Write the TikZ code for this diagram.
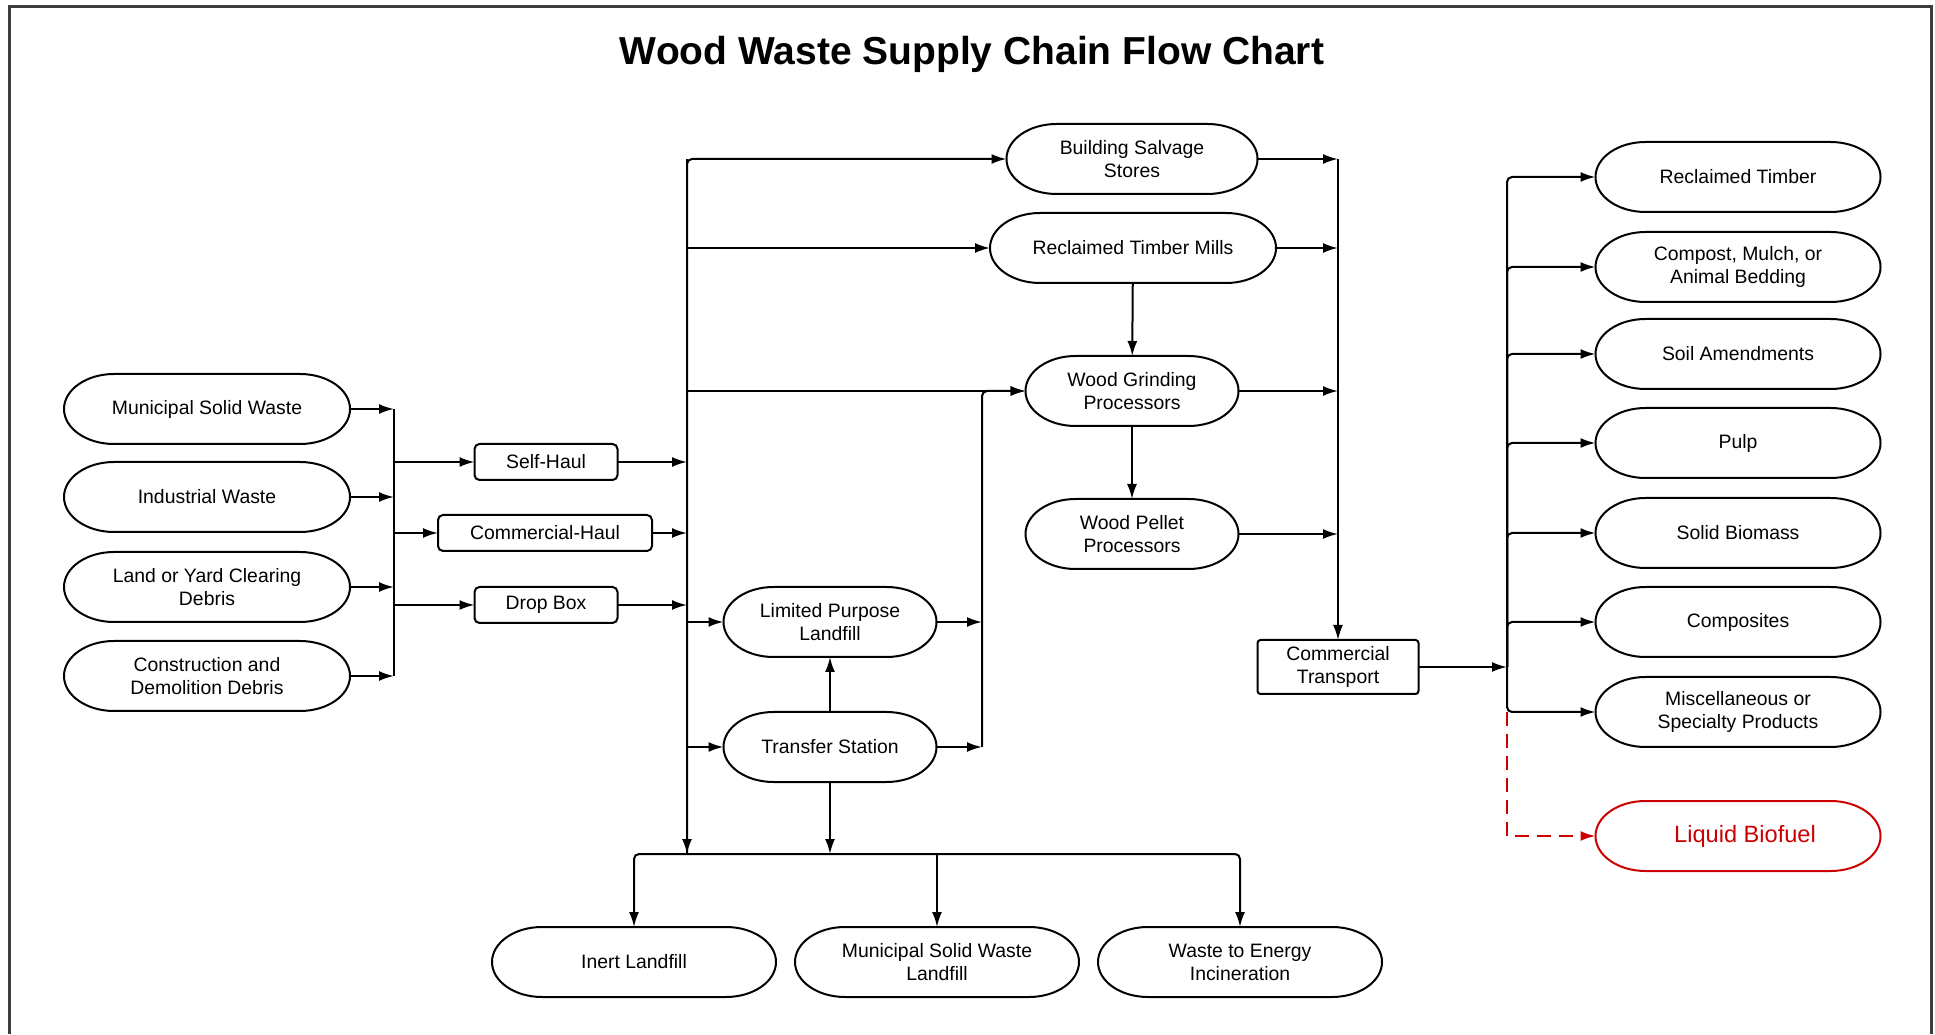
\documentclass[tikz,border=0pt]{standalone}
\usepackage{fontspec}
\setmainfont{Liberation Sans}
\usepackage{tikz}
\usetikzlibrary{arrows.meta,positioning,calc}
\usepackage{xcolor}
\definecolor{biored}{RGB}{204,0,0}
\definecolor{framegray}{RGB}{60,60,60}

\newcommand{\bodyfont}{\fontsize{19.4}{23}\selectfont}
% outline of a pill shaped node
\newcommand{\pill}[2][black]{%
  \draw[line width=2pt,#1] ([xshift=50pt]#2.north west) -- ([xshift=-50pt]#2.north east)
    arc[start angle=90,end angle=-90,x radius=50pt,y radius=35pt]
    -- ([xshift=50pt]#2.south west)
    arc[start angle=270,end angle=90,x radius=50pt,y radius=35pt] -- cycle;}

\begin{document}
\begin{tikzpicture}[x=1pt,y=1pt,
  pill/.style={rectangle, minimum height=70pt, minimum width=286pt, inner sep=2pt, outer sep=0pt, align=center, font=\bodyfont},
  box/.style={draw, rectangle, rounded corners=5pt, line width=2pt, minimum height=36pt, inner sep=3pt, outer sep=0pt, align=center, font=\bodyfont},
  wire/.style={line width=2pt},
  flow/.style={line width=2pt, -{Latex[length=15pt,width=10pt]}}]
  \useasboundingbox (0,0) rectangle (1935,1034);
  \draw[framegray, line width=3pt] (9,0) -- (9,1027) -- (1931,1027) -- (1931,0);

  \node[font=\fontsize{39}{47}\selectfont\bfseries] (title) at (972,980) {Wood Waste Supply Chain Flow Chart};

  % Sources
  \node[pill] (msw) at (207,625) {Municipal Solid Waste};
  \node[pill] (iw) at (207,537) {Industrial Waste};
  \node[pill] (lycd) at (207,447) {Land or Yard Clearing\\Debris};
  \node[pill] (cdd) at (207,358) {Construction and\\Demolition Debris};

  % Haulers
  \node[box, minimum width=143pt] (selfhaul) at (546,572) {Self-Haul};
  \node[box, minimum width=214pt] (comhaul) at (545,501) {Commercial-Haul};
  \node[box, minimum width=143pt] (dropbox) at (546,429) {Drop Box};

  % Processors
  \node[pill, minimum width=251pt] (bss) at (1132,875) {Building Salvage\\Stores};
  \node[pill] (rtm) at (1133,786) {Reclaimed Timber Mills};
  \node[pill, minimum width=213pt] (wgp) at (1132,643) {Wood Grinding\\Processors};
  \node[pill, minimum width=213pt] (wpp) at (1132,500) {Wood Pellet\\Processors};
  \node[pill, minimum width=213pt] (lpl) at (830,412) {Limited Purpose\\Landfill};
  \node[pill, minimum width=213pt] (ts) at (830,287) {Transfer Station};

  % Disposal
  \node[pill, minimum width=284pt] (inert) at (634,72) {Inert Landfill};
  \node[pill, minimum width=284pt] (mswl) at (937,72) {Municipal Solid Waste\\Landfill};
  \node[pill, minimum width=284pt] (wte) at (1240,72) {Waste to Energy\\Incineration};

  \node[box, minimum width=161pt, minimum height=54pt, rounded corners=3pt] (ct) at (1338,367) {Commercial\\Transport};

  % Products
  \node[pill, minimum width=285pt] (rt) at (1738,857) {Reclaimed Timber};
  \node[pill, minimum width=285pt] (cmab) at (1738,767) {Compost, Mulch, or\\Animal Bedding};
  \node[pill, minimum width=285pt] (soil) at (1738,680) {Soil Amendments};
  \node[pill, minimum width=285pt] (pulp) at (1738,591) {Pulp};
  \node[pill, minimum width=285pt] (sb) at (1738,501) {Solid Biomass};
  \node[pill, minimum width=285pt] (comp) at (1738,412) {Composites};
  \node[pill, minimum width=285pt] (misc) at (1738,322) {Miscellaneous or\\Specialty Products};
  \node[pill, minimum width=285pt, text=biored, font=\fontsize{23.6}{28}\selectfont] (lb) at (1738,198) {\hspace*{14pt}Liquid Biofuel};

  \foreach \n in {msw,iw,lycd,cdd,bss,rtm,wgp,wpp,lpl,ts,inert,mswl,wte,rt,cmab,soil,pulp,sb,comp,misc}
    {\pill{\n}}
  \pill[biored]{lb}

  % Bus lines
  \coordinate (b1) at (394,358);
  \coordinate (b2) at (687,180);
  \coordinate (b3) at (982,287);
  \coordinate (b4) at (1338,875);
  \coordinate (b5) at (1507,367);
  \coordinate (bb) at (830,180);

  \foreach \n in {msw,iw,lycd,cdd}
    \draw[flow] (\n) -- (\n -| b1);
  \draw[wire] (msw -| b1) -- (cdd -| b1);
  \foreach \n in {selfhaul,comhaul,dropbox}
    {\draw[flow] (\n -| b1) -- (\n);
     \draw[flow] (\n) -- (\n -| b2);}

  \draw[flow, rounded corners=5pt] (b2) |- (bss);
  \draw[flow] (b2 |- bss) -- (b2);
  \foreach \n in {rtm,wgp,lpl,ts}
    \draw[flow] (\n -| b2) -- (\n);

  \draw[flow] (ts) -- (lpl);
  \draw[flow] (lpl) -- (lpl -| b3);
  \draw[flow] (ts) -- (ts -| b3);
  \draw[flow, rounded corners=5pt] (b3) |- (wgp);

  \draw[flow] (rtm) -- (wgp);
  \draw[flow] (wgp) -- (wpp);
  \foreach \n in {bss,rtm,wgp,wpp}
    \draw[flow] (\n) -- (\n -| b4);
  \draw[flow] (b4) -- (ct);

  \draw[flow] (ct) -- (b5);
  \foreach \n in {rt,cmab,soil,pulp,sb,comp,misc}
    \draw[flow, rounded corners=5pt] (b5) |- (\n);
  \draw[flow, biored, dash pattern=on 14pt off 8pt] (misc -| b5) |- (lb);

  \draw[flow] (ts) -- (bb);
  \draw[flow, rounded corners=5pt] (bb) -| (inert);
  \draw[flow, rounded corners=5pt] (bb) -| (wte);
  \draw[flow] (mswl |- bb) -- (mswl);
\end{tikzpicture}
\end{document}
